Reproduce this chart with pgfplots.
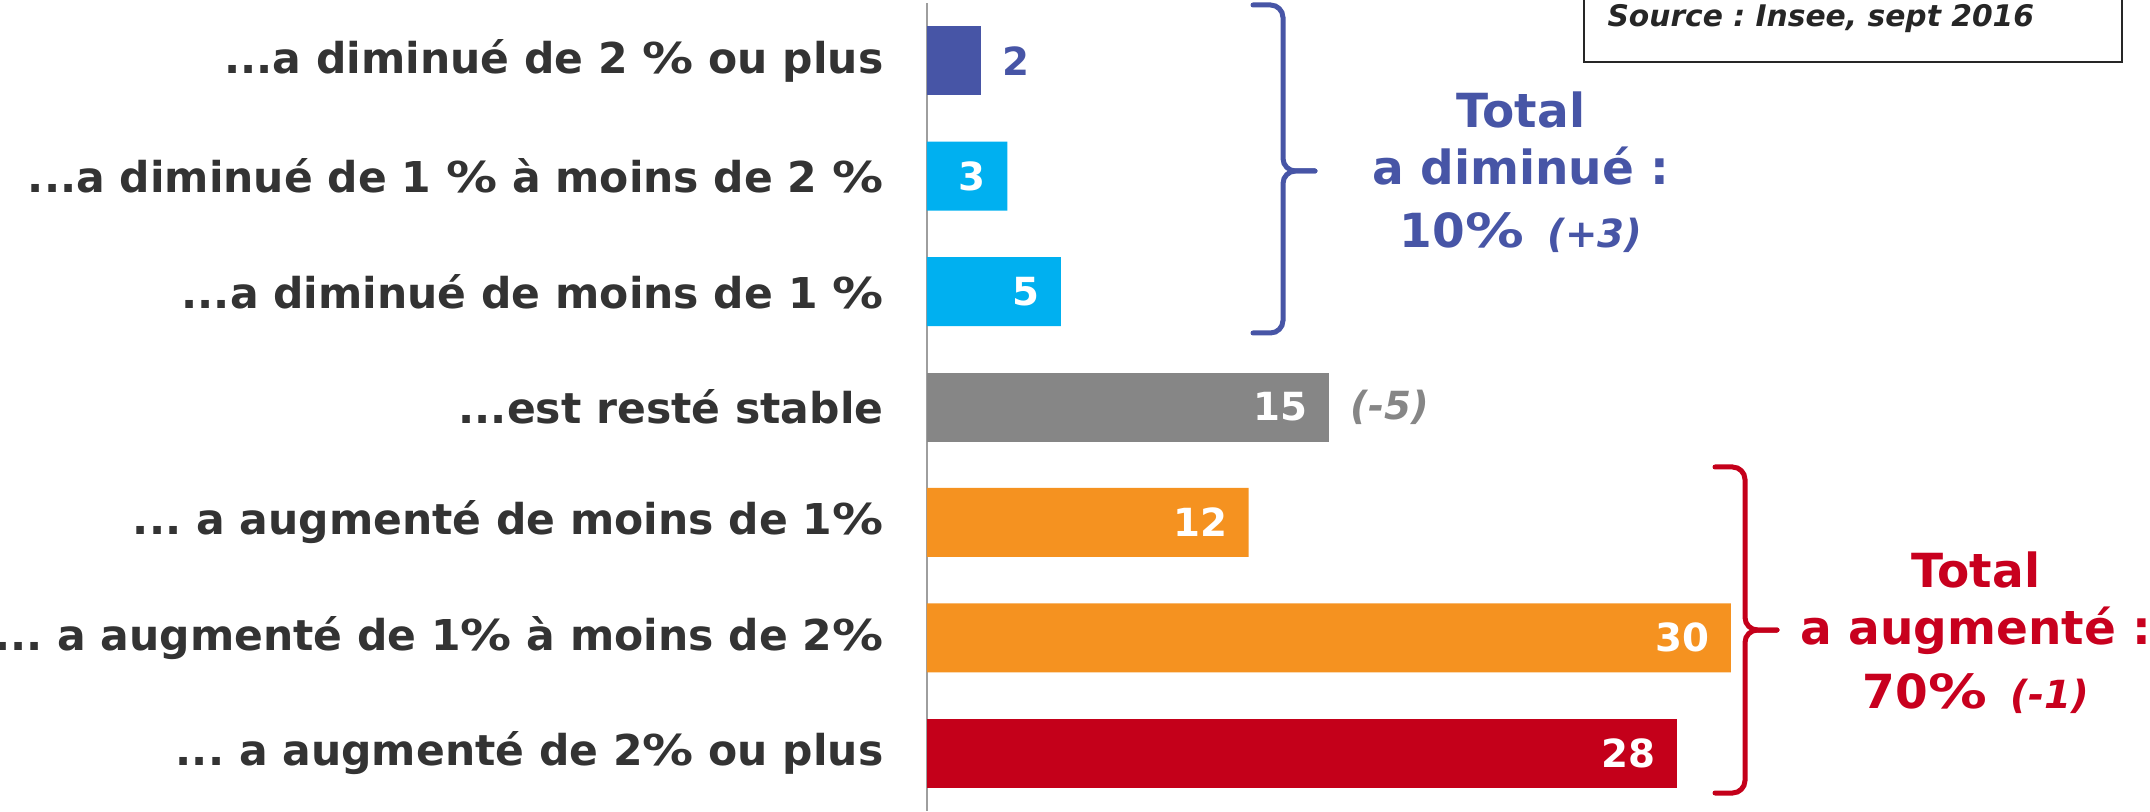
\documentclass[border=0pt]{standalone}
\usepackage{fontspec}
\setmainfont{DejaVu Sans}
\usepackage{graphicx}
\usepackage{pgfplots}
\pgfplotsset{compat=1.18}
\frenchspacing
\definecolor{blueD}{RGB}{71,85,166}
\definecolor{cyanB}{RGB}{0,176,240}
\definecolor{grayB}{RGB}{134,134,134}
\definecolor{orangeB}{RGB}{245,146,32}
\definecolor{redB}{RGB}{196,0,26}
\definecolor{redT}{RGB}{200,0,30}
\definecolor{labelc}{RGB}{51,51,51}
\newcommand{\td}{{.}{.}{.}}
\newcommand{\pc}{\scalebox{1.2}[1]{\%}}
\newcommand{\lblfont}{\fontsize{17pt}{20pt}\selectfont\bfseries\frenchspacing}
\newcommand{\valfont}{\fontsize{15.5pt}{18pt}\selectfont\bfseries}
\newcommand{\totfont}{\fontsize{18.8pt}{22pt}\selectfont\bfseries}
\newcommand{\smallit}{\fontsize{15.5pt}{18pt}\selectfont\bfseries\itshape}
\pgfplotsset{
  inlbl/.style={every node near coord/.append style={anchor=east, inner sep=0pt, xshift=-8.4pt, text=white, font=\valfont}},
  outlbl/.style={every node near coord/.append style={anchor=west, inner sep=0pt, xshift=8.4pt, text=#1, font=\valfont}},
}
\begin{document}
\begin{tikzpicture}[x=1pt,y=1pt]
\begin{axis}[
  at={(0,0)}, anchor=south west, scale only axis,
  width=482.4pt, height=323.2pt,
  xmin=0, xmax=45, ymin=-0.5, ymax=6.5, y dir=reverse,
  xbar, bar width=27.6pt, bar shift=0pt,
  axis x line=none, axis y line*=left,
  y axis line style={-, draw=black!38, line width=0.8pt},
  ytick={0,1,2,3,4,5,6},
  yticklabels={{\td a diminué de 2 \pc{} ou plus},{\td a diminué de 1 \pc{} à moins de 2 \pc},{\td a diminué de moins de 1 \pc\hspace{0.45em}},{\td est resté stable},{\td{} a augmenté de moins de 1\pc},{\td{} a augmenté de 1\pc{} à moins de 2\pc},{\td{} a augmenté de 2\pc{} ou plus}},
  ytick style={draw=none}, major tick length=0pt,
  yticklabel style={anchor=east, inner sep=0pt, xshift=-17.2pt, text=labelc, font=\lblfont},
  point meta=x,
  nodes near coords={\pgfmathprintnumber[assume math mode=true]{\pgfplotspointmeta}},
  clip=false,
]
\addplot[fill=blueD, draw=none, outlbl=blueD] coordinates {(2,0)};
\addplot[fill=cyanB, draw=none, inlbl] coordinates {(3,1) (5,2)};
\addplot[fill=grayB, draw=none, inlbl] coordinates {(15,3)};
\addplot[fill=orangeB, draw=none, inlbl] coordinates {(12,4) (30,5)};
\addplot[fill=redB, draw=none, inlbl] coordinates {(28,6)};
\node[anchor=west, inner sep=0pt, xshift=8.4pt, text=grayB, font=\valfont\itshape] at (axis cs:15,3) {(-5)};
\end{axis}
% braces
\begin{scope}[line width=2pt, line cap=round, rounded corners=5pt]
\draw[blueD] (130.4,322.4) -- (142.4,322.4) -- (142.4,256) -- (155.2,256);
\draw[blueD] (155.2,256) -- (142.4,256) -- (142.4,191.2) -- (130.4,191.2);
\draw[redB] (315.2,137.6) -- (327.2,137.6) -- (327.2,72.4) -- (340,72.4);
\draw[redB] (340,72.4) -- (327.2,72.4) -- (327.2,7.2) -- (315.2,7.2);
\end{scope}
% totals
\node[anchor=base, text=blueD, font=\totfont, inner sep=0pt] at (237.6,273.2) {Total};
\node[anchor=base, text=blueD, font=\totfont, inner sep=0pt] at (237.6,250.4) {a diminué :};
\node[anchor=base, text=blueD, font=\totfont, inner sep=0pt] at (237.6,225.2) {10\scalebox{1.25}[1]{\%}\hspace{0.5em}{\smallit(+3)}};
\node[anchor=base, text=redT, font=\totfont, inner sep=0pt] at (419.6,89.2) {Total};
\node[anchor=base, text=redT, font=\totfont, inner sep=0pt] at (419.6,66.8) {a augmenté :};
\node[anchor=base, text=redT, font=\totfont, inner sep=0pt] at (419.6,41.2) {70\scalebox{1.25}[1]{\%}\hspace{0.5em}{\smallit(-1)}};
% source box
\draw[black!85, line width=0.9pt] (262.8,330) rectangle (478,299.6);
\node[anchor=base west, inner sep=0pt, text=black!85, font=\fontsize{11.9pt}{14pt}\selectfont\bfseries\itshape] at (272,313.6) {Source : Insee, sept 2016};
\pgfresetboundingbox
\path[use as bounding box] (-370.8,0) rectangle (489.2,324.4);
\end{tikzpicture}
\end{document}
